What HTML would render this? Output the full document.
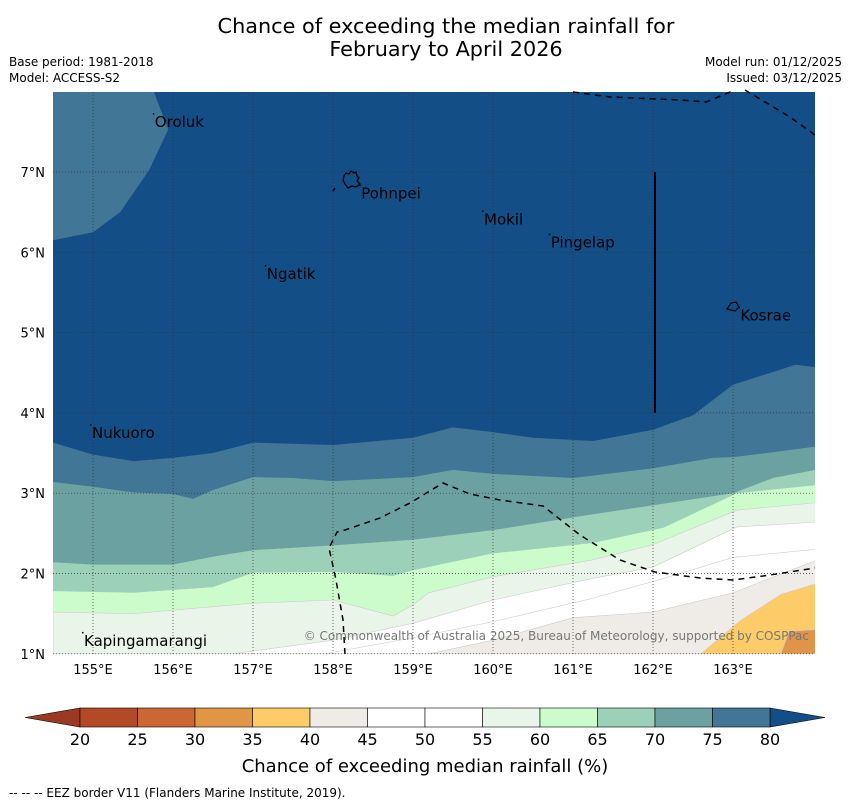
<!DOCTYPE html>
<html><head><meta charset="utf-8">
<style>
body{margin:0;background:#fff;font-family:"DejaVu Sans","Liberation Sans",sans-serif;}
svg text{font-family:"DejaVu Sans","Liberation Sans",sans-serif;}
</style></head>
<body>
<svg id="chart" width="850" height="804" viewBox="0 0 850 804" xmlns="http://www.w3.org/2000/svg">
<text x="446" y="33" font-size="20.8" text-anchor="middle">Chance of exceeding the median rainfall for</text>
<text x="446" y="56" font-size="20.8" text-anchor="middle">February to April 2026</text>
<text x="9" y="66" font-size="12">Base period: 1981-2018</text>
<text x="9" y="82" font-size="12">Model: ACCESS-S2</text>
<text x="842" y="66" font-size="12" text-anchor="end">Model run: 01/12/2025</text>
<text x="842" y="82" font-size="12" text-anchor="end">Issued: 03/12/2025</text>
<defs><clipPath id="mapclip"><rect x="53" y="92" width="762" height="562"/></clipPath></defs>
<g id="map" clip-path="url(#mapclip)">
<rect x="53" y="92" width="762" height="562" fill="#134e87"/>
</g>
<g id="overlay"></g>
<g id="colorbar"></g>
<text x="425" y="772" font-size="18" text-anchor="middle">Chance of exceeding median rainfall (%)</text>
<text x="9" y="797" font-size="12">--  --  -- EEZ border V11 (Flanders Marine Institute, 2019).</text>
</svg>
<script>
// ---- data (lon/lat contour boundaries for each level) ----
const levels = [80, 75, 70, 65, 60, 55, 45, 40, 35];
const levelColors = ["#427697","#6ba2a1","#9dd0b8","#ccfccc","#eaf5e9","#ffffff","#efebe7","#fdcb68","#e0944a"];
const c80Lon = [154.5,155,155.5,156,156.5,157,158,159,159.5,160,160.5,161.25,162,162.5,163,163.5,163.78,164.03];
const c80Lat = [3.63,3.48,3.40,3.44,3.50,3.63,3.60,3.69,3.82,3.76,3.69,3.65,3.79,3.97,4.35,4.51,4.60,4.57];
const c75Lon = [154.5,155,155.5,156,156.25,156.5,157,157.5,158,159,159.5,160,161,162,162.75,163,163.5,164.03];
const c75Lat = [3.14,3.08,3.01,2.99,2.93,3.04,3.20,3.19,3.15,3.20,3.29,3.24,3.19,3.31,3.44,3.45,3.51,3.58];
const c70Lon = [154.5,155,156,156.5,157,158,159,160,161.2,162,163,163.5,164.03];
const c70Lat = [2.14,2.11,2.11,2.21,2.29,2.35,2.42,2.54,2.73,2.85,3.00,3.19,3.29];
const c65Lon = [154.5,155.5,156.5,157,158,158.75,159,160,161.25,162.13,163.05,164.03];
const c65Lat = [1.78,1.76,1.83,2.01,2.02,1.97,2.04,2.25,2.38,2.57,3.00,3.10];
const c60Lon = [154.5,155.5,157,158,158.75,159,159.2,160,161.25,162,163.05,164.03];
const c60Lat = [1.52,1.50,1.63,1.67,1.47,1.61,1.76,1.96,2.17,2.36,2.79,2.88];
const c55Lon = [156.75,158,159,160,161.25,162,163.05,164.03];
const c55Lat = [1.0,1.17,1.38,1.67,1.94,2.08,2.58,2.64];
const c45Lon = [159.2,160,161,162,163,164.03];
const c45Lat = [1.0,1.17,1.45,1.52,1.76,2.16];
const c40Lon = [162.6,163.1,163.6,164.03];
const c40Lat = [1.0,1.42,1.74,1.87];
const c35Lon = [163.6,163.7,164.03];
const c35Lat = [1.0,1.28,1.30];
const orolukLon = [154.5,155.76,155.94,155.7,155.34,155.0,154.5];
const orolukLat = [8.0,8.0,7.53,7.02,6.5,6.25,6.15];
const lonTicks = [155,156,157,158,159,160,161,162,163];
const latTicks = [1,2,3,4,5,6,7];
const cbLevels = [20,25,30,35,40,45,50,55,60,65,70,75,80];
const cbColors = ["#b34a25","#cc6633","#e09645","#fdcb68","#efebe7","#ffffff","#ffffff","#eaf5e9","#ccfccc","#9dd0b8","#6ba2a1","#427697"];
const places = ["Oroluk","Pohnpei","Mokil","Pingelap","Ngatik","Kosrae","Nukuoro","Kapingamarangi"];
const placeLon = [155.76,158.34,159.875,160.71,157.16,163.08,154.975,154.875];
const placeLat = [7.72,6.83,6.51,6.22,5.83,5.31,3.85,1.26];

// ---- axis functions ----
const X = lon => 93 + (lon - 155) * 80;
const Y = lat => 172 - (lat - 7) * 80.3;
const NS = "http://www.w3.org/2000/svg";
function mk(tag, attrs, parent){const e=document.createElementNS(NS,tag);for(const k in attrs)e.setAttribute(k,attrs[k]);parent.appendChild(e);return e;}

const map = document.getElementById('map');
let d = orolukLon.map((lo,i)=>(i?'L':'M')+X(lo)+','+Y(orolukLat[i])).join(' ')+' Z';
const ob = mk('path',{d:d,fill:levelColors[0]},map);


const cLons=[c80Lon,c75Lon,c70Lon,c65Lon,c60Lon,c55Lon,c45Lon,c40Lon,c35Lon];
const cLats=[c80Lat,c75Lat,c70Lat,c65Lat,c60Lat,c55Lat,c45Lat,c40Lat,c35Lat];
levels.forEach((lv,k)=>{
  const lo=cLons[k], la=cLats[k];
  let p = 'M'+X(lo[0])+','+Y(1.0)+' '+lo.map((v,i)=>'L'+X(v)+','+Y(la[i])).join(' ')+' L'+X(lo[lo.length-1])+','+Y(1.0)+' Z';
  const e = mk('path',{d:p,fill:levelColors[k],stroke:k>=4?'#cccccc':'none','stroke-width':0.6},map);
  
  
});
const l50 = mk('path',{d:'M'+X(157.9)+','+Y(1.0)+' L'+X(159)+','+Y(1.2)+' L'+X(160)+','+Y(1.4)+' L'+X(161.2)+','+Y(1.68)+' L'+X(162)+','+Y(1.9)+' L'+X(163)+','+Y(2.2)+' L'+X(164.03)+','+Y(2.3),fill:'none',stroke:'#d0d0d0','stroke-width':0.6},map);



const ov = document.getElementById('overlay');
lonTicks.forEach(t=>{
  const g=mk('line',{x1:X(t),x2:X(t),y1:92,y2:654,stroke:'#333','stroke-width':0.7,'stroke-dasharray':'1,2'},ov);
  
  
  const tx=mk('text',{x:X(t),y:674,'font-size':13,'text-anchor':'middle'},ov);
  tx.textContent=t+'°E';
  
  
});
latTicks.forEach(t=>{
  const g=mk('line',{x1:53,x2:815,y1:Y(t),y2:Y(t),stroke:'#333','stroke-width':0.7,'stroke-dasharray':'1,2'},ov);
  
  
  const tx=mk('text',{x:45,y:Y(t)+5,'font-size':13,'text-anchor':'end'},ov);
  tx.textContent=t+'°N';
  
  
});
const eez=[
 'M345,654 L343,620 L336,580 L329,548 L337,532 L345,530 L380,518 L410,503 L443,483 L470,494 L500,500 L543,506 L580,535 L620,560 L655,572 L700,578 L733,580 L770,575 L815,568',
 'M573,92 L610,97 L680,100 L706,102 L735,90',
 'M745,90 L790,117 L815,135'];
eez.forEach((p,i)=>{
  const e=mk('path',{d:p,fill:'none',stroke:'#000','stroke-width':1.5,'stroke-dasharray':'6,5'},ov);
  
  
});
const vl=mk('line',{x1:655,x2:655,y1:172,y2:413,stroke:'#000','stroke-width':2},ov);


const pi=mk('path',{d:'M344,176 L346,173 L349,174 L351,171 L354,173 L356,172 L357,176 L359,178 L357,181 L360,184 L356,187 L352,186 L348,188 L345,184 L343,180 Z',fill:'none',stroke:'#000','stroke-width':1.3},ov);


const ki=mk('path',{d:'M727,309 L731,303 L736,302 L739,307 L735,311 Z',fill:'none',stroke:'#000','stroke-width':1.2},ov);


const sm=mk('line',{x1:333,y1:191,x2:335,y2:188,stroke:'#000','stroke-width':1.5},ov);


places.forEach((n,i)=>{
  const x=X(placeLon[i]), y=Y(placeLat[i]);
  const dot=mk('rect',{x:x-1,y:y-1,width:1.5,height:1.5,fill:'#000'},ov);
  
  
  const t=mk('text',{x:x+1,y:y+13,'font-size':15,fill:'#000'},ov);
  t.textContent=n;
  
  
});
const cp=mk('text',{x:809,y:640,'font-size':12,fill:'#777','text-anchor':'end'},ov);
cp.textContent='© Commonwealth of Australia 2025, Bureau of Meteorology, supported by COSPPac';



const cb=document.getElementById('colorbar');
const CX = v => 80 + (v-20)*(690/60);
const cy0=708, cy1=727;
const lt=mk('polygon',{points:'25,'+((cy0+cy1)/2)+' '+CX(20)+','+cy0+' '+CX(20)+','+cy1,fill:'#9a3a22',stroke:'#000','stroke-width':0.6},cb);


const rt=mk('polygon',{points:CX(80)+','+cy0+' 825,'+((cy0+cy1)/2)+' '+CX(80)+','+cy1,fill:'#134e87',stroke:'#000','stroke-width':0.6},cb);


cbColors.forEach((c,i)=>{
  const r=mk('rect',{x:CX(cbLevels[i]),y:cy0,width:CX(cbLevels[i+1])-CX(cbLevels[i]),height:cy1-cy0,fill:c,stroke:'#000','stroke-width':0.6},cb);
  
  
});
cbLevels.forEach(v=>{
  const t=mk('text',{x:CX(v),y:745,'font-size':16,'text-anchor':'middle'},cb);
  t.textContent=v;
  
  
});
</script>
</body></html>
